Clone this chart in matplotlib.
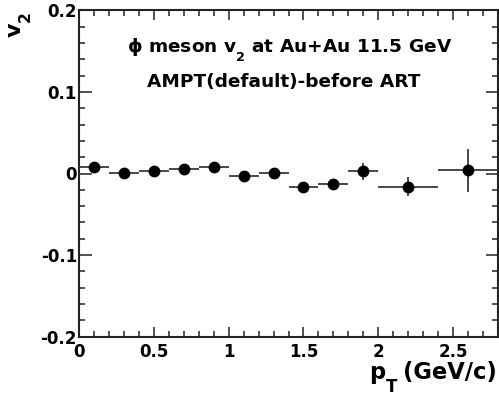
import matplotlib
matplotlib.use("Agg")
import matplotlib.pyplot as plt
from matplotlib.ticker import MultipleLocator, FixedLocator
import matplotlib.transforms as mtransforms

plt.rcParams['font.family'] = ['DejaVu Sans']
plt.rcParams['font.weight'] = 'bold'
plt.rcParams['mathtext.fontset'] = 'custom'
plt.rcParams['mathtext.rm'] = 'DejaVu Sans:bold'
plt.rcParams['mathtext.it'] = 'DejaVu Sans:bold'
plt.rcParams['mathtext.bf'] = 'DejaVu Sans:bold'

# lower subscripts a bit (ROOT-like placement)
try:
    import matplotlib._mathtext as _mt
    for _cls in set([_mt.FontConstantsBase] + list(_mt._font_constant_mapping.values())):
        _cls.subdrop = 0.9
        _cls.sub1 = 0.9
except Exception:
    pass

# data
pt = [0.1, 0.3, 0.5, 0.7, 0.9, 1.1, 1.3, 1.5, 1.7, 1.9, 2.2, 2.6]
pt_err = [0.1, 0.1, 0.1, 0.1, 0.1, 0.1, 0.1, 0.1, 0.1, 0.1, 0.2, 0.2]
v2 = [0.0074, 0.0012, 0.0025, 0.0050, 0.0074, -0.0025, 0.0012, -0.0168,
      -0.0127, 0.0025, -0.0160, 0.0037]
v2_err = [0.003, 0.003, 0.003, 0.003, 0.004, 0.004, 0.004, 0.005,
          0.005, 0.010, 0.012, 0.026]
xticks = [0, 0.5, 1, 1.5, 2, 2.5]
xticklabels = ['0', '0.5', '1', '1.5', '2', '2.5']
yticks = [-0.2, -0.1, 0, 0.1, 0.2]
yticklabels = ['-0.2', '-0.1', '0', '0.1', '0.2']

fig = plt.figure(figsize=(4.99, 4.0), dpi=100)
ax = fig.add_axes([79/499, 1-336.7/400, (498-79)/499, (336.7-10.3)/400])

ax.errorbar(pt, v2, xerr=pt_err, yerr=v2_err, fmt='o', color='black',
            ecolor='#3a3a3a', elinewidth=1.3, capsize=0, markersize=7.5,
            zorder=3)

ax.set_xlim(0, 2.8)
ax.set_ylim(-0.2, 0.2)
ax.xaxis.set_major_locator(FixedLocator(xticks))
ax.set_xticklabels(xticklabels)
ax.yaxis.set_major_locator(FixedLocator(yticks))
ax.set_yticklabels(yticklabels)
ax.xaxis.set_minor_locator(MultipleLocator(0.1))
ax.yaxis.set_minor_locator(MultipleLocator(0.02))

for sp in ax.spines.values():
    sp.set_linewidth(1.5)
    sp.set_color('#222222')

ax.tick_params(which='both', direction='in', top=True, right=True,
               color='#333333', width=1.2, labelsize=12)
ax.tick_params(axis='x', which='major', length=7.5, pad=4.5)
ax.tick_params(axis='x', which='minor', length=4)
ax.tick_params(axis='y', which='major', length=9, pad=1.5)
ax.tick_params(axis='y', which='minor', length=4.5)
for lab in ax.get_xticklabels() + ax.get_yticklabels():
    lab.set_fontweight('bold')

# y-axis title
fig.text(21/499, 1-12/400, r'v$_2$', rotation=90, ha='center', va='top',
         fontsize=16, fontweight='bold')

# x-axis title composed of pieces: p, subscript T, (GeV/c)
renderer = fig.canvas.get_renderer()
base_y = 1 - 378.5/400
pix_x = mtransforms.blended_transform_factory(mtransforms.IdentityTransform(),
                                              fig.transFigure)
t_unit = fig.text(497/499, base_y, '(GeV/c)', ha='right', va='baseline',
                  fontsize=16.3, fontweight='bold')
bb = t_unit.get_window_extent(renderer)
t_sub = fig.text(bb.x0 - 6, base_y, 'T', ha='right', va='baseline',
                 fontsize=12, fontweight='bold',
                 transform=pix_x + mtransforms.ScaledTranslation(
                     0, -13.5/100, fig.dpi_scale_trans))
bb2 = t_sub.get_window_extent(renderer)
fig.text(bb2.x0 - 0.5, base_y, 'p', ha='right', va='baseline',
         fontsize=16.3, fontweight='bold', transform=pix_x)

fig.text(290/499, 1-51.7/400, r'ϕ meson v$_2$ at Au+Au 11.5 GeV',
         ha='center', va='baseline', fontsize=13.3, fontweight='bold')
fig.text(284/499, 1-86.7/400, 'AMPT(default)-before ART',
         ha='center', va='baseline', fontsize=13.3, fontweight='bold')

fig.savefig('out.png', dpi=100)
